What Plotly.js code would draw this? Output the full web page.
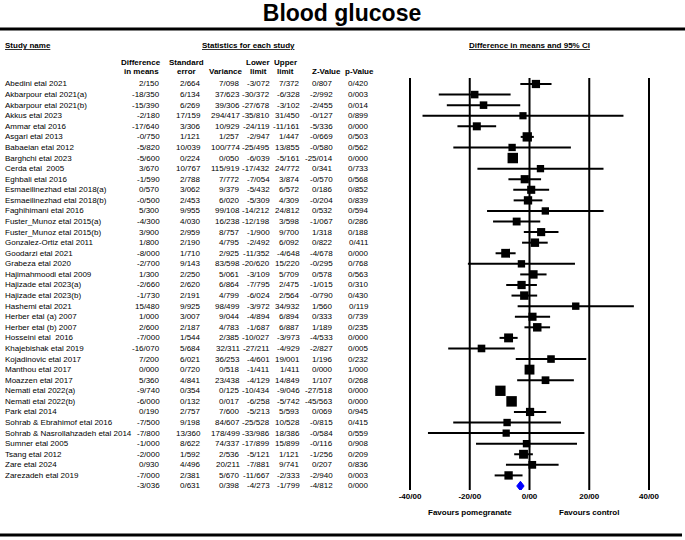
<!DOCTYPE html>
<html><head><meta charset="utf-8">
<script src="https://cdn.plot.ly/plotly-3.0.1.min.js"></script>
<style>html,body{margin:0;padding:0;background:#fff}</style>
</head><body><div id="chart" style="width:685px;height:540px"></div>
<script>
const studies = ["Abedini etal 2021","Akbarpour etal 2021(a)","Akbarpour etal 2021(b)","Akkus etal 2023","Ammar etal 2016","Asgari etal 2013","Babaeian etal 2012","Barghchi etal 2023","Cerda etal\u00a0 2005","Eghbali etal 2016","Esmaeilinezhad etal 2018(a)","Esmaeilinezhad etal 2018(b)","Faghihimani etal 2016","Fuster_Munoz etal 2015(a)","Fuster_Munoz etal 2015(b)","Gonzalez-Ortiz etal 2011","Goodarzi etal 2021","Grabeza etal 2020","Hajimahmoodi etal 2009","Hajizade etal 2023(a)","Hajizade etal 2023(b)","Hashemi etal 2021","Herber etal (a) 2007","Herber etal (b) 2007","Hosseini etal\u00a0 2016","Khajebishak etal 2019","Kojadinovic etal 2017","Manthou etal 2017","Moazzen etal 2017","Nemati etal 2022(a)","Nemati etal 2022(b)","Park etal 2014","Sohrab & Ebrahimof etal 2016","Sohrab & Nasrollahzadeh etal 2014","Sumner etal 2005","Tsang etal 2012","Zare etal 2024","Zarezadeh etal 2019"];
const diffMeans = [2.150,-18.350,-15.390,-2.180,-17.640,-0.750,-5.820,-5.600,3.670,-1.590,0.570,-0.500,5.300,-4.300,3.900,1.800,-8.000,-2.700,1.300,-2.660,-1.730,15.480,1.000,2.600,-7.000,-16.070,7.200,0.000,5.360,-9.740,-6.000,0.190,-7.500,-7.800,-1.000,-2.000,0.930,-7.000];
const stdErr = [2.664,6.134,6.269,17.159,3.306,1.121,10.039,0.224,10.767,2.788,3.062,2.453,9.955,4.030,2.959,2.190,1.710,9.143,2.250,2.620,2.191,9.925,3.007,2.187,1.544,5.684,6.021,0.720,4.841,0.354,0.132,2.757,9.198,13.360,8.622,1.592,4.496,2.381];
const variance = [7.098,37.623,39.306,294.417,10.929,1.257,100.774,0.050,115.919,7.772,9.379,6.020,99.108,16.238,8.757,4.795,2.925,83.598,5.061,6.864,4.799,98.499,9.044,4.783,2.385,32.311,36.253,0.518,23.438,0.125,0.017,7.600,84.607,178.499,74.337,2.536,20.211,5.670];
const lowerLimit = [-3.072,-30.372,-27.678,-35.810,-24.119,-2.947,-25.495,-6.039,-17.432,-7.054,-5.432,-5.309,-14.212,-12.198,-1.900,-2.492,-11.352,-20.620,-3.109,-7.795,-6.024,-3.972,-4.894,-1.687,-10.027,-27.211,-4.601,-1.411,-4.129,-10.434,-6.258,-5.213,-25.528,-33.986,-17.899,-5.121,-7.881,-11.667];
const upperLimit = [7.372,-6.328,-3.102,31.450,-11.161,1.447,13.855,-5.161,24.772,3.874,6.572,4.309,24.812,3.598,9.700,6.092,-4.648,15.220,5.709,2.475,2.564,34.932,6.894,6.887,-3.973,-4.929,19.001,1.411,14.849,-9.046,-5.742,5.593,10.528,18.386,15.899,1.121,9.741,-2.333];
const zValue = [0.807,-2.992,-2.455,-0.127,-5.336,-0.669,-0.580,-25.014,0.341,-0.570,0.186,-0.204,0.532,-1.067,1.318,0.822,-4.678,-0.295,0.578,-1.015,-0.790,1.560,0.333,1.189,-4.533,-2.827,1.196,0.000,1.107,-27.518,-45.563,0.069,-0.815,-0.584,-0.116,-1.256,0.207,-2.940];
const pValue = [0.420,0.003,0.014,0.899,0.000,0.503,0.562,0.000,0.733,0.568,0.852,0.839,0.594,0.286,0.188,0.411,0.000,0.768,0.563,0.310,0.430,0.119,0.739,0.235,0.000,0.005,0.232,1.000,0.268,0.000,0.000,0.945,0.415,0.559,0.908,0.209,0.836,0.003];
const summary = {diff:-3.036, se:0.631, variance:0.398, lower:-4.273, upper:-1.799, z:-4.812, p:0.000};
const xTickVals = [-40,-20,0,20,40];
const xTickText = ["-40/00","-20/00","0/00","20/00","40/00"];

const W = 685, H = 540;
const FONT = "Liberation Sans, Arial, sans-serif";
const px = v => v / W;
const py = v => 1 - v / H;
const fmt = v => {
  const a = Math.abs(v).toFixed(3);
  return (v < 0 && Number(a) !== 0 ? "-" : "") + a.replace(".", "/");
};

const n = studies.length;
const rows = studies.map((_, i) => i);

// marker size from study weight (random-effects style)
const tau2 = 1.0;
const w = variance.map(v => 1 / (v + tau2));
const wmax = Math.max(...w);
const sizes = w.map(x => 7 + 3.5 * Math.sqrt(x / wmax));

const traces = [
  {
    type: "scatter", mode: "markers",
    x: diffMeans, y: rows,
    marker: {symbol: "square", color: "#000000", opacity: 1, size: sizes, line: {width: 0, color: "#000000"}},
    error_x: {
      type: "data", symmetric: false,
      array: upperLimit.map((u, i) => u - diffMeans[i]),
      arrayminus: lowerLimit.map((l, i) => diffMeans[i] - l),
      color: "#000000", thickness: 2, width: 0
    },
    hoverinfo: "skip", showlegend: false
  },
  {
    type: "scatter", mode: "lines",
    x: [summary.lower, summary.diff, summary.upper, summary.diff, summary.lower],
    y: [n, n - 0.45, n, n + 0.45, n],
    fill: "toself", fillcolor: "#0000ff",
    line: {color: "#0000ff", width: 1},
    hoverinfo: "skip", showlegend: false
  }
];

const annotations = [];
const colRight = [162, 203, 242, 272, 302, 335, 371];
const rowFont = {family: FONT, size: 8, color: "#000"};
const allRows = studies.concat([""]);
const cols = [
  diffMeans.concat([summary.diff]),
  stdErr.concat([summary.se]),
  variance.concat([summary.variance]),
  lowerLimit.concat([summary.lower]),
  upperLimit.concat([summary.upper]),
  zValue.concat([summary.z]),
  pValue.concat([summary.p])
];
allRows.forEach((name, i) => {
  if (name) annotations.push({xref: "paper", yref: "y", x: px(3), y: i, text: name, showarrow: false, xanchor: "left", yanchor: "middle", font: rowFont});
  cols.forEach((col, c) => {
    annotations.push({xref: "paper", yref: "y", x: px(colRight[c]), y: i, text: fmt(col[i]), showarrow: false, xanchor: "right", yanchor: "middle", font: rowFont});
  });
});

const hFont = {family: FONT, size: 8, color: "#000", weight: "bold"};
const hdr = (text, x, y, anchor) => annotations.push({xref: "paper", yref: "paper", x: px(x), y: py(y), text: text, showarrow: false, xanchor: anchor || "center", yanchor: "middle", font: hFont, align: "center"});
hdr("<u>Study name</u>", 3, 45, "left");
hdr("<u>Statistics for each study</u>", 248, 45);
hdr("<u>Difference in means and 95% CI</u>", 529, 45);
hdr("Difference", 141, 62); hdr("in means", 141, 71);
hdr("Standard", 187, 62); hdr("error", 187, 71);
hdr("Variance", 226, 71);
hdr("Lower", 258, 62); hdr("limit", 258, 71);
hdr("Upper", 285, 62); hdr("limit", 285, 71);
hdr("Z-Value", 326, 71);
hdr("p-Value", 359, 71);

annotations.push({xref: "x", yref: "paper", x: -20, y: py(512), text: "Favours pomegranate", showarrow: false, xanchor: "center", yanchor: "middle", font: hFont});
annotations.push({xref: "x", yref: "paper", x: 20, y: py(512), text: "Favours control", showarrow: false, xanchor: "center", yanchor: "middle", font: hFont});

const pxPerUnit = (649 - 410) / 80;
const xr = 40.3;
const rowTop = 84, rowStep = (486 - 84) / 38, plotTop = 78, plotBot = 490;

const shapes = xTickVals.map(v => ({type: "line", xref: "x", yref: "paper", x0: v, x1: v, y0: py(plotBot), y1: py(plotTop), layer: "below", line: {color: "#000000", width: 2}}));
shapes.push({type: "line", xref: "paper", yref: "paper", x0: 0, x1: 1, y0: py(29), y1: py(29), line: {color: "#000", width: 3}});
shapes.push({type: "line", xref: "paper", yref: "paper", x0: 0, x1: px(682), y0: py(535), y1: py(535), line: {color: "#000", width: 3}});

const layout = {
  width: W, height: H,
  margin: {l: 0, r: 0, t: 0, b: 0, pad: 0},
  paper_bgcolor: "#fff", plot_bgcolor: "#fff",
  font: {family: FONT, color: "#000"},
  title: {text: "<b>Blood glucose</b>", x: px(342), xanchor: "center", y: py(13), yanchor: "middle", font: {family: FONT, size: 23, color: "#000"}},
  xaxis: {
    domain: [px(529.5 - xr * pxPerUnit), px(529.5 + xr * pxPerUnit)],
    range: [-xr, xr],
    tickvals: xTickVals, ticktext: xTickText,
    showgrid: false, zeroline: false, showline: false, ticks: "",
    tickfont: {family: FONT, size: 8, color: "#000", weight: "bold"},
    fixedrange: true
  },
  yaxis: {
    domain: [py(plotBot), py(plotTop)],
    range: [38 + (plotBot - 486) / rowStep, -(rowTop - plotTop) / rowStep],
    visible: false, showgrid: false, zeroline: false, fixedrange: true
  },
  shapes: shapes,
  annotations: annotations,
  showlegend: false
};

Plotly.newPlot("chart", traces, layout, {staticPlot: true, displayModeBar: false});
</script></body></html>
